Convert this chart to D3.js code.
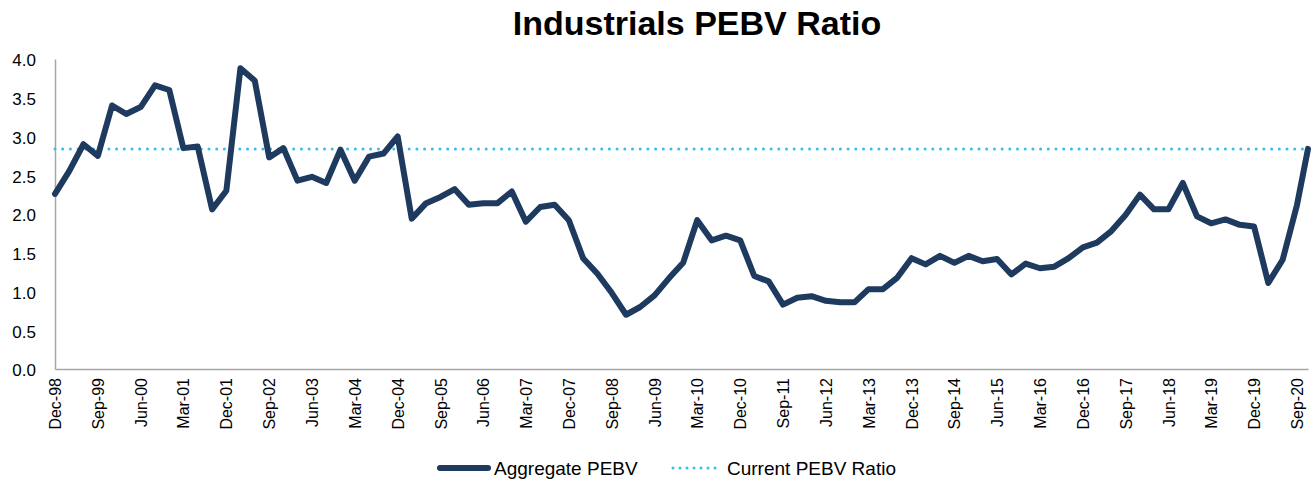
<!DOCTYPE html>
<head>
  <meta charset="utf-8">
  <script src="https://d3js.org/d3.v7.min.js"></script>
  <style>
    body { margin:0; background:#fff; }
    svg { display:block; font-family:"Liberation Sans", Arial, sans-serif; }
  </style>
</head>
<body>
  <svg width="1312" height="483"></svg>
  <script>
    var title = 'Industrials PEBV Ratio';
    var width = 1312;
    var height = 483;
    var margin = {top: 59, bottom: 114, left: 55, right: 4};

    // quarterly aggregate PEBV, Dec-98 .. Sep-20
    var firstQuarter = '1998-12';
    var pebv = [
      2.26, 2.55, 2.90, 2.75, 3.40, 3.29, 3.38, 3.66, 3.60, 2.85,
      2.87, 2.06, 2.30, 3.88, 3.72, 2.73, 2.85, 2.43, 2.48, 2.40,
      2.83, 2.43, 2.74, 2.78, 3.00, 1.94, 2.14, 2.22, 2.32, 2.12,
      2.14, 2.14, 2.29, 1.90, 2.09, 2.12, 1.92, 1.43, 1.23, 0.98,
      0.70, 0.80, 0.95, 1.17, 1.37, 1.92, 1.66, 1.72, 1.66, 1.20,
      1.13, 0.83, 0.92, 0.94, 0.88, 0.86, 0.86, 1.03, 1.03, 1.18,
      1.43, 1.35, 1.46, 1.37, 1.46, 1.39, 1.42, 1.22, 1.36, 1.30,
      1.32, 1.43, 1.57, 1.63, 1.78, 1.99, 2.25, 2.06, 2.06, 2.40,
      1.97, 1.88, 1.93, 1.86, 1.84, 1.11, 1.41, 2.12
    ];
    // latest reading after the last quarter
    var currentDate = '2020-11-10';
    var currentRatio = 2.84;

    var tickLabels = ['Dec-98','Sep-99','Jun-00','Mar-01','Dec-01','Sep-02','Jun-03','Mar-04',
      'Dec-04','Sep-05','Jun-06','Mar-07','Dec-07','Sep-08','Jun-09','Mar-10','Dec-10','Sep-11',
      'Jun-12','Mar-13','Dec-13','Sep-14','Jun-15','Mar-16','Dec-16','Sep-17','Jun-18','Mar-19',
      'Dec-19','Sep-20'];
    var yTicks = [0, 0.5, 1, 1.5, 2, 2.5, 3, 3.5, 4];
    var legendNames = ['Aggregate PEBV', 'Current PEBV Ratio'];

    var start = d3.timeParse('%Y-%m')(firstQuarter);
    var data = pebv.map((v, i) => ({date: d3.timeMonth.offset(start, 3 * i), value: v}));
    data.push({date: d3.timeParse('%Y-%m-%d')(currentDate), value: currentRatio});
    var current = [data[0].date, data[data.length - 1].date].map(d => ({date: d, value: currentRatio}));

    var xScale = d3.scaleTime()
      .domain(d3.extent(data, d => d.date))
      .range([margin.left, width - margin.right]);
    var yScale = d3.scaleLinear()
      .domain([0, 4])
      .range([height - margin.bottom, margin.top]);

    var svg = d3.select('svg');

    svg.append('text')
      .attr('x', 697).attr('y', 35)
      .attr('text-anchor', 'middle')
      .style('font-size', '34px').style('font-weight', 'bold')
      .text(title);

    // axes
    var yAxis = d3.axisLeft(yScale)
      .tickValues(yTicks).tickFormat(d3.format('.1f'))
      .tickSize(0).tickPadding(19);
    var gy = svg.append('g')
      .attr('transform', 'translate(' + margin.left + ',0)')
      .call(yAxis);
    gy.select('.domain').attr('stroke', '#a6a6a6').attr('stroke-width', 1.5);
    gy.selectAll('text').style('font-size', '17px').attr('fill', '#000').attr('dy', '0.4em');

    var xAxis = d3.axisBottom(xScale)
      .tickValues(tickLabels.map(d3.timeParse('%b-%y')))
      .tickFormat(d3.timeFormat('%b-%y'))
      .tickSize(0);
    var gx = svg.append('g')
      .attr('transform', 'translate(0,' + (height - margin.bottom) + ')')
      .call(xAxis);
    gx.select('.domain').attr('stroke', '#a6a6a6').attr('stroke-width', 1.5);
    gx.selectAll('text')
      .style('font-size', '16px').attr('fill', '#000')
      .attr('transform', 'rotate(-90)')
      .attr('x', -9).attr('y', 0).attr('dy', '0.35em')
      .style('text-anchor', 'end');

    var line = d3.line().x(d => xScale(d.date)).y(d => yScale(d.value));

    svg.append('path')
      .datum(current)
      .attr('d', line)
      .attr('fill', 'none')
      .attr('stroke', '#33bff0')
      .attr('stroke-width', 3)
      .attr('stroke-linecap', 'round')
      .attr('stroke-dasharray', '0 7.7');

    svg.append('path')
      .datum(data)
      .attr('d', line)
      .attr('fill', 'none')
      .attr('stroke', '#1f3a5f')
      .attr('stroke-width', 6)
      .attr('stroke-linejoin', 'round')
      .attr('stroke-linecap', 'round');

    // legend
    var lg = svg.append('g').style('font-size', '19px');
    lg.append('line').attr('x1', 440).attr('x2', 488).attr('y1', 468).attr('y2', 468)
      .attr('stroke', '#1f3a5f').attr('stroke-width', 6).attr('stroke-linecap', 'round');
    lg.append('text').attr('x', 494).attr('y', 475).text(legendNames[0]);
    lg.append('line').attr('x1', 673).attr('x2', 722).attr('y1', 468).attr('y2', 468)
      .attr('stroke', '#33bff0').attr('stroke-width', 3).attr('stroke-linecap', 'round')
      .attr('stroke-dasharray', '0 7');
    lg.append('text').attr('x', 727).attr('y', 475).text(legendNames[1]);
  </script>
</body>
